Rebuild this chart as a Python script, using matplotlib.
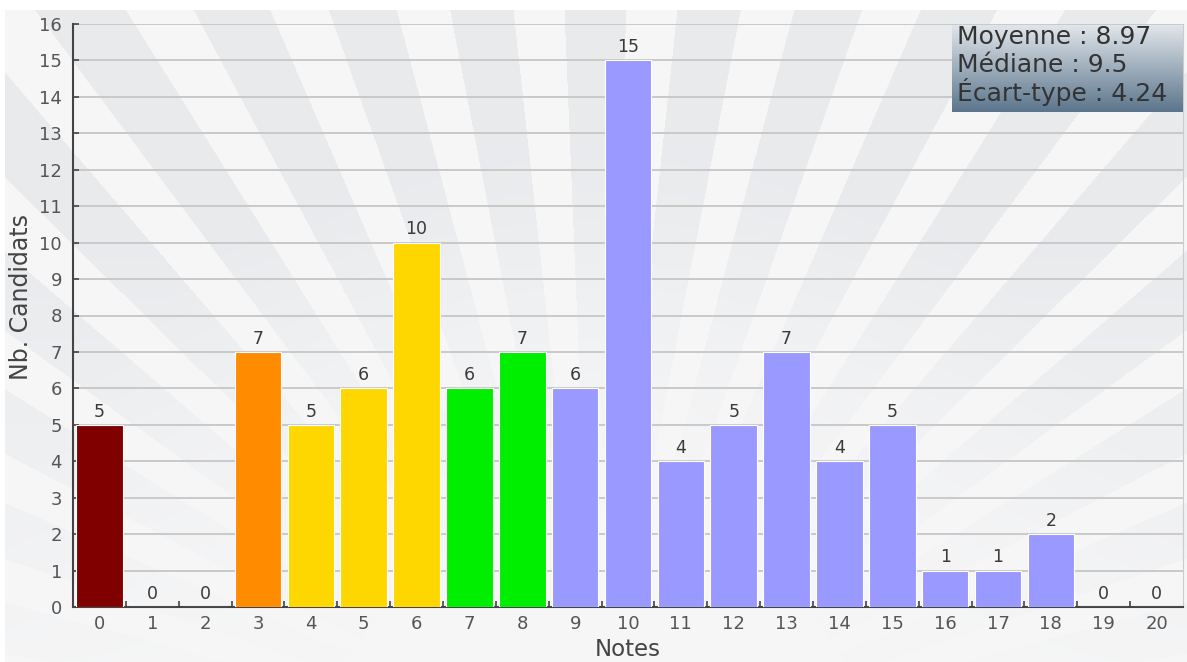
import numpy as np
import matplotlib
matplotlib.use("Agg")
import matplotlib.pyplot as plt
from matplotlib.ticker import MultipleLocator, FixedLocator

# grade distribution
notes = list(range(21))
counts = [5, 0, 0, 7, 5, 6, 10, 6, 7, 6, 15, 4, 5, 7, 4, 5, 1, 1, 2, 0, 0]

stat_names = ["Moyenne", "Médiane", "Écart-type"]
stat_values = ["8.97", "9.5", "4.24"]

W, H = 1187, 662


def barColor(note):
    if note < 3:
        return "#800000"
    if note < 4:
        return "#ff8c00"
    if note < 7:
        return "#ffd700"
    if note < 9:
        return "#00ee00"
    return "#9999ff"


def sunburst():
    # grey rays fanning out from below the plot, fading towards the bottom
    yy, xx = np.mgrid[0:H, 0:W]
    cx, cy = 595.0, 760.0
    ang = np.arctan2(xx - cx, cy - yy)
    r = np.hypot(xx - cx, yy - cy)
    step = np.deg2rad(8.6)
    ray = ((ang / step + 0.275) % 1.0) < 0.55
    fade = np.clip((r - 250) / 380, 0, 1) * np.clip((720 - yy) / 500, 0, 1)
    base = np.array([0.965, 0.965, 0.968])
    dark = np.array([0.91, 0.918, 0.928])
    k = (ray * fade)[..., None]
    img = base * (1 - k) + dark * k
    img[:10, :, :] = 1.0
    img[:, :5, :] = 1.0
    return img


fig = plt.figure(figsize=(W / 100, H / 100), dpi=100)

bg = fig.add_axes([0, 0, 1, 1], zorder=-5)
bg.imshow(sunburst(), extent=(0, W, H, 0), aspect="auto", interpolation="bilinear")
bg.axis("off")

ax = fig.add_axes([73 / W, 1 - 607 / H, 1110 / W, 583 / H])
ax.set_facecolor("none")

ax.bar(notes, counts, width=0.88, color=[barColor(n) for n in notes],
       edgecolor="white", linewidth=0.8, zorder=3)
for x, c in zip(notes, counts):
    ax.annotate(str(c), (x, c), xytext=(0, 3), textcoords="offset points",
                ha="center", va="bottom", fontsize=12.5, color="#3a3a3a")

ax.set_xlim(-0.5, 20.5)
ax.set_ylim(0, 16)
ax.yaxis.set_major_locator(MultipleLocator(1))
ax.set_xticks(notes)
ax.xaxis.set_minor_locator(FixedLocator(np.arange(0.5, 20, 1)))

ax.tick_params(axis="x", which="major", length=0, pad=6, labelsize=13, labelcolor="#555555")
ax.tick_params(axis="x", which="minor", direction="in", length=4, width=1.2, color="#444444")
ax.tick_params(axis="y", direction="in", length=4, width=1.2, color="#444444",
               pad=8, labelsize=13, labelcolor="#555555")

ax.yaxis.grid(True, color="#c6c6c6", linewidth=1.3)
ax.set_axisbelow(True)

ax.spines["top"].set_visible(False)
ax.spines["right"].set_color("#cccccc")
for s in ("left", "bottom"):
    ax.spines[s].set_color("#444444")
    ax.spines[s].set_linewidth(1.5)

ax.set_xlabel("Notes", fontsize=16.5, color="#444444", labelpad=3)
ax.set_ylabel("Nb. Candidats", fontsize=17, color="#444444")
ax.yaxis.set_label_coords(-0.036, 0.532)

# stats box in the top right corner
box = fig.add_axes([952 / W, 1 - 112 / H, 231 / W, 87 / H], zorder=5)
top = np.array([0.88, 0.90, 0.92])
bottom = np.array([0.36, 0.46, 0.55])
t = np.linspace(0, 1, 100)[:, None, None]
grad = top * (1 - t) + bottom * t
box.imshow(np.repeat(grad, 2, axis=1), extent=(0, 1, 0, 1), aspect="auto")
box.set_xlim(0, 1)
box.set_ylim(0, 1)
box.axis("off")
for i, (name, val) in enumerate(zip(stat_names, stat_values)):
    box.text(0.02, 0.86 - i * 0.315, f"{name} : {val}", fontsize=18,
             color="#333333", va="center", ha="left")

fig.savefig("out.png", dpi=100)
